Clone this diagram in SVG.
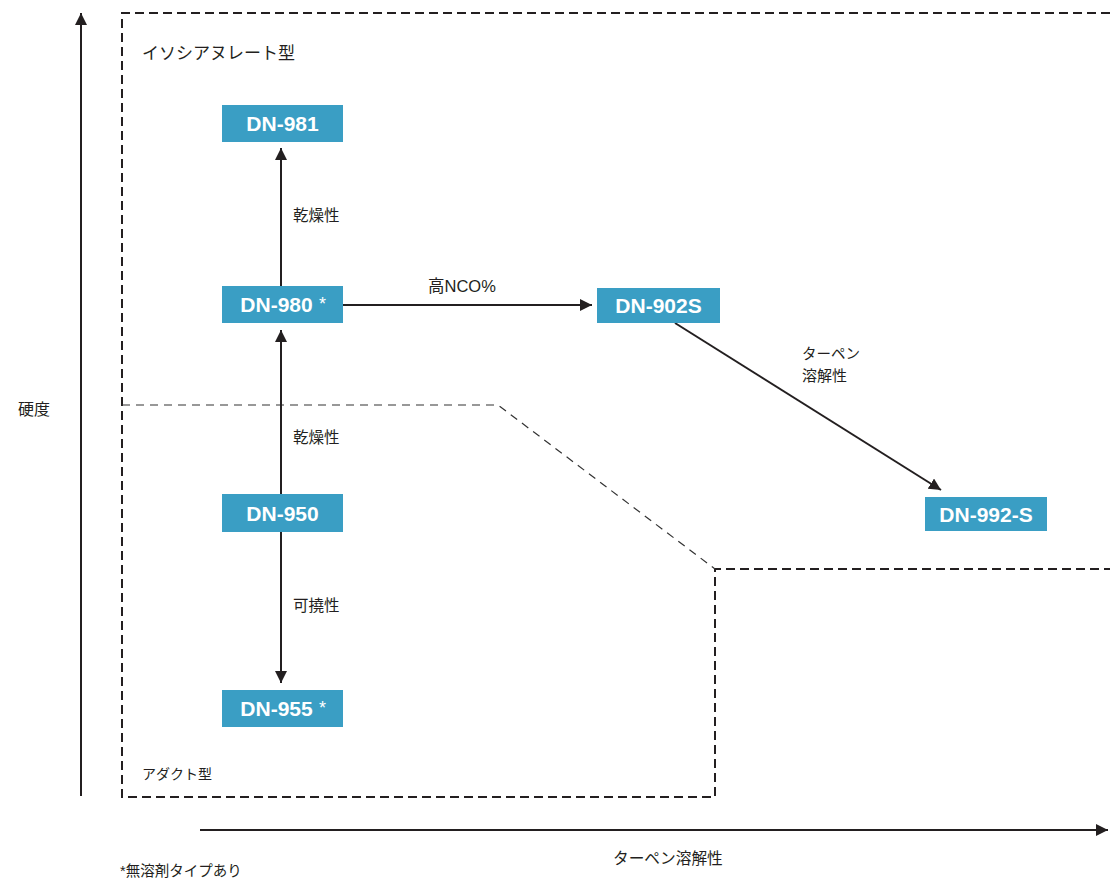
<svg xmlns="http://www.w3.org/2000/svg" width="1110" height="878" viewBox="0 0 1110 878">
<style>
.node{fill:#3a9ec4}
.nt{font-family:"Liberation Sans",Arial,sans-serif;font-weight:bold;font-size:21px;fill:#fff;text-anchor:middle}
.ast{font-family:"Liberation Sans",Arial,sans-serif;font-size:18px;fill:#fff}
.lb{font-family:"Liberation Sans","Noto Sans CJK JP",sans-serif;font-size:15px;fill:#231f20}
.ln{stroke:#231f20;stroke-width:2;fill:none}
.box{stroke:#231f20;stroke-width:2;fill:none;stroke-dasharray:9 5}
.thin{stroke:#333;stroke-width:1.2;fill:none;stroke-dasharray:8 6}
</style>
<defs>
<marker id="ah" viewBox="0 0 12 12" refX="12" refY="6" markerWidth="12" markerHeight="12" markerUnits="userSpaceOnUse" orient="auto">
<path d="M0,0 L12,6 L0,12 Z" fill="#231f20"/>
</marker>
</defs>
<rect width="1110" height="878" fill="#fff"/>
<g id="regions">
<path class="box" d="M1110,13 H122 V797 H715 V569 H1110"/>
<path class="thin" d="M122,405 H498 L715,569"/>
</g>
<g id="axes">
<line class="ln" x1="81" y1="796" x2="81" y2="13" marker-end="url(#ah)"/>
<line class="ln" x1="200" y1="830" x2="1108" y2="830" marker-end="url(#ah)"/>
<text class="lb" x="18" y="415" style="font-size:16px">硬度</text>
<text class="lb" x="613" y="864" style="font-size:15.7px">ターペン溶解性</text>
<text class="lb" x="120" y="876" style="font-size:14.5px">*無溶剤タイプあり</text>
<text class="lb" x="142" y="59" style="font-size:17px">イソシアヌレート型</text>
<text class="lb" x="142" y="779" style="font-size:14px">アダクト型</text>
</g>
<g id="connectors">
<line class="ln" x1="281" y1="286" x2="281" y2="148" marker-end="url(#ah)"/>
<line class="ln" x1="281" y1="494" x2="281" y2="330" marker-end="url(#ah)"/>
<line class="ln" x1="281" y1="532" x2="281" y2="683" marker-end="url(#ah)"/>
<line class="ln" x1="343" y1="305" x2="592" y2="305" marker-end="url(#ah)"/>
<line class="ln" x1="675" y1="323" x2="941" y2="490" marker-end="url(#ah)"/>
<text class="lb" x="293" y="221" style="font-size:15.5px">乾燥性</text>
<text class="lb" x="293" y="443" style="font-size:15.5px">乾燥性</text>
<text class="lb" x="293" y="611" style="font-size:15.5px">可撓性</text>
<text class="lb" x="428" y="292" style="font-size:16.5px">高NCO%</text>
<text class="lb" x="802" y="359" style="font-size:14.5px">ターペン</text>
<text class="lb" x="802" y="381" style="font-size:15px">溶解性</text>
</g>
<g id="n981"><rect class="node" x="222" y="105" width="121" height="37"/><text class="nt" x="282.5" y="131">DN-981</text></g>
<g id="n980"><rect class="node" x="222" y="286" width="121" height="37"/><text class="nt" x="276.5" y="312">DN-980</text><text class="ast" x="319" y="310">*</text></g>
<g id="n902"><rect class="node" x="597" y="288" width="123" height="35"/><text class="nt" x="658.5" y="313">DN-902S</text></g>
<g id="n950"><rect class="node" x="222" y="494" width="121" height="38"/><text class="nt" x="282.5" y="521">DN-950</text></g>
<g id="n955"><rect class="node" x="222" y="690" width="121" height="37"/><text class="nt" x="276.5" y="716">DN-955</text><text class="ast" x="319" y="714">*</text></g>
<g id="n992"><rect class="node" x="925" y="497" width="122" height="34"/><text class="nt" x="986" y="522">DN-992-S</text></g>
</svg>
